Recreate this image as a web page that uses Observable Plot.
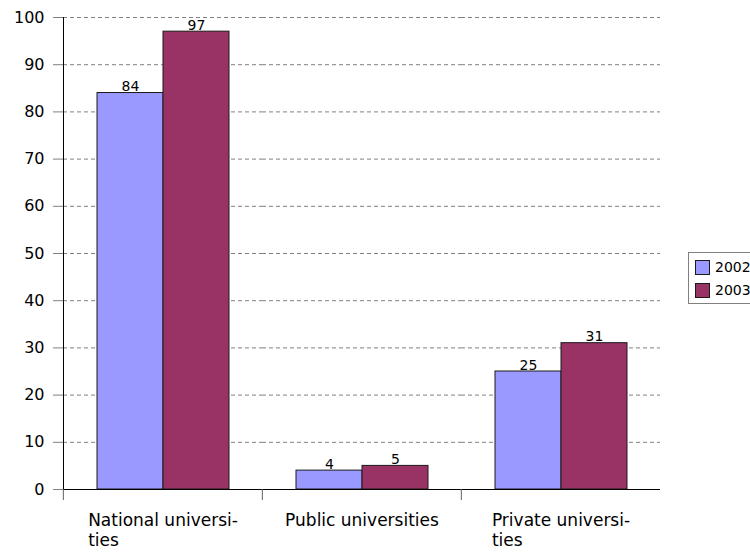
<!DOCTYPE html>
<html>
<head>
<meta charset="utf-8">
<script src="https://cdn.jsdelivr.net/npm/d3@7"></script>
<script src="https://cdn.jsdelivr.net/npm/@observablehq/plot@0.6"></script>
<style>
  body { margin: 0; background: #fff; overflow: hidden; }
  #wrap { position: relative; width: 750px; height: 552px; overflow: hidden; font-family: "DejaVu Sans", sans-serif; background: #fff; }
  #legend { position: absolute; left: 688px; top: 252px; border: 1px solid #808080; padding: 6px 12px 5px 6px; font-size: 14px; color: #000; background: #fff; white-space: nowrap; }
  #legend .row { display: flex; align-items: center; height: 16px; margin-bottom: 7px; }
  #legend .row:last-child { margin-bottom: 0; }
  #legend .sw { width: 15px; height: 15px; border: 1px solid #1a1a1a; margin-right: 5px; box-sizing: border-box; }
</style>
</head>
<body>
<div id="wrap"></div>
<script>
const categories = ["National universities", "Public universities", "Private universities"];
const categoryLabels = ["National universi-\nties", "Public universities", "Private universi-\nties"];
const years = ["2002", "2003"];
const values2002 = [84, 4, 25];
const values2003 = [97, 5, 31];
const yTicks = [0, 10, 20, 30, 40, 50, 60, 70, 80, 90, 100];
const colors = ["#9999FF", "#993366"];

const data = [];
categories.forEach((c, i) => {
  data.push({category: c, year: years[0], value: values2002[i]});
  data.push({category: c, year: years[1], value: values2003[i]});
});

const W = 750, H = 552, ML = 62, MR = 90, MT = 17, MB = 63;
const step = (W - ML - MR) / categories.length;

const chart = Plot.plot({
  width: W, height: H,
  marginLeft: ML, marginRight: MR, marginTop: MT, marginBottom: MB,
  style: {fontFamily: "DejaVu Sans, sans-serif", fontSize: "16px", color: "#000", background: "#fff", overflow: "visible"},
  fx: {domain: categories, padding: 0},
  x: {domain: years, paddingInner: 0, paddingOuter: 0.5, axis: null},
  y: {domain: [0, 100]},
  color: {domain: years, range: colors},
  marks: [
    Plot.gridY(yTicks, {stroke: "#808080", strokeOpacity: 1, strokeDasharray: "4,3"}),
    Plot.barY(data, {fx: "category", x: "year", y: "value", fill: "year", stroke: "#1a1a1a", strokeWidth: 1}),
    Plot.ruleY([0], {stroke: "#000"}),
    Plot.text(data, {fx: "category", x: "year", y: "value", text: d => String(d.value), lineAnchor: "bottom", dy: -2, fontSize: 14, fill: "#000"}),
    Plot.axisY(yTicks, {tickSize: 10, tickPadding: 9, stroke: "#808080", fill: "#000", label: null, fontSize: 16}),
    Plot.frame({anchor: "left", facetAnchor: "left", stroke: "#000"}),
    Plot.axisFx({anchor: "bottom", tickSize: 11, dx: -step / 2, tickFormat: () => "", label: null, stroke: "#606060"}),
    Plot.axisFx({anchor: "bottom", tickSize: 0, tickPadding: 22, lineHeight: 1.2,
      tickFormat: d => categoryLabels[categories.indexOf(d)], label: null, fontSize: 17, fill: "#000"})
  ]
});

const wrap = document.getElementById("wrap");
wrap.appendChild(chart);

// left-align wrapped category label lines under a centred first line
chart.querySelectorAll('g[aria-label="fx-axis tick label"] text').forEach(t => {
  const spans = t.querySelectorAll("tspan");
  if (spans.length > 1) {
    const w = spans[0].getComputedTextLength();
    t.setAttribute("text-anchor", "start");
    spans.forEach(s => s.setAttribute("x", -w / 2));
  }
});

const legend = document.createElement("div");
legend.id = "legend";
years.forEach((y, i) => {
  const row = document.createElement("div");
  row.className = "row";
  const sw = document.createElement("div");
  sw.className = "sw";
  sw.style.background = colors[i];
  const lab = document.createElement("span");
  lab.textContent = y;
  row.appendChild(sw);
  row.appendChild(lab);
  legend.appendChild(row);
});
wrap.appendChild(legend);
</script>
</body>
</html>
